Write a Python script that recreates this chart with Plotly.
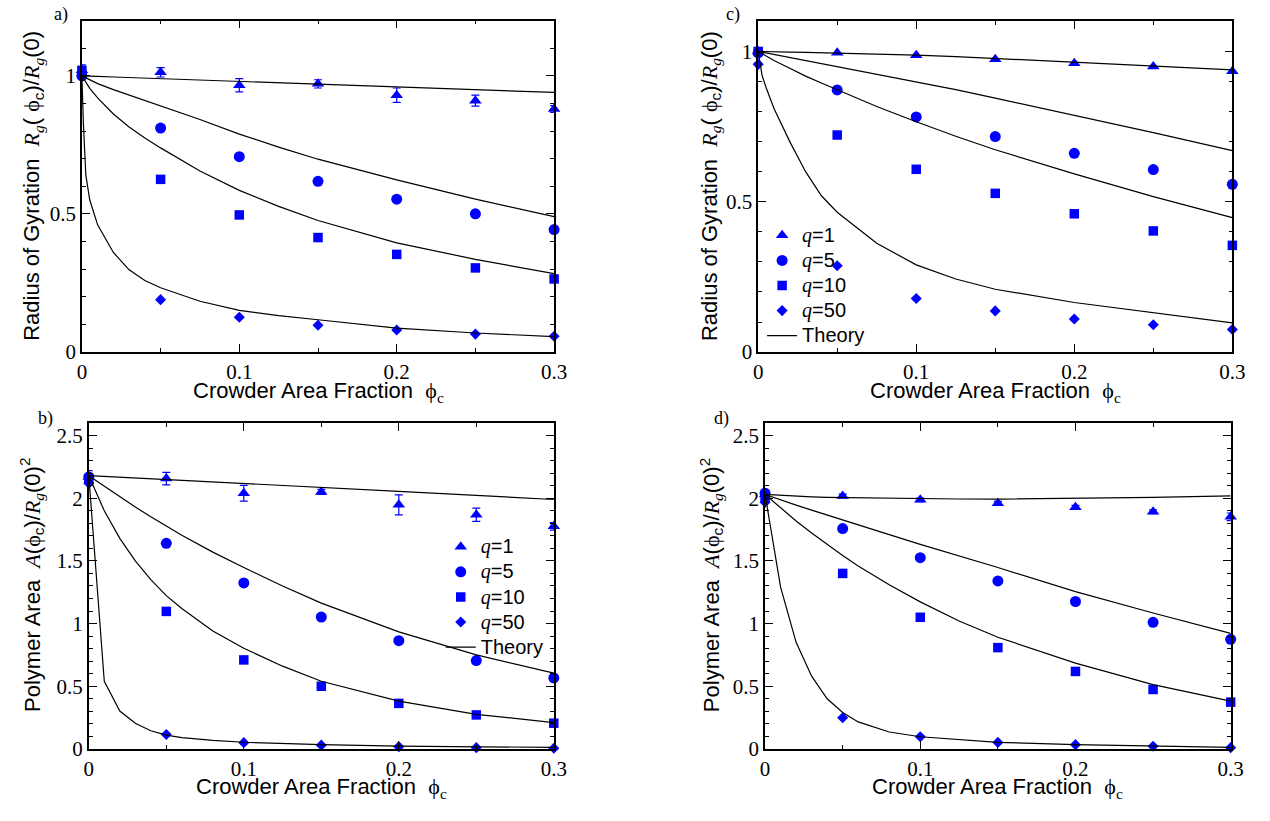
import plotly.graph_objects as go

# ---------------- data ----------------
phi = [0, 0.05, 0.1, 0.15, 0.2, 0.25, 0.3]

# panel a : Rg(phi)/Rg(0)
a_q1 = [1.02, 1.013, 0.966, 0.971, 0.93, 0.91, 0.88]
a_q1_err = [0.02, 0.017, 0.024, 0.015, 0.026, 0.02, 0.012]
a_q5 = [1.0, 0.811, 0.707, 0.618, 0.553, 0.5, 0.443]
a_q10 = [1.02, 0.625, 0.496, 0.414, 0.353, 0.304, 0.264]
a_q50 = [1.0, 0.189, 0.125, 0.096, 0.079, 0.064, 0.056]

# panel b : A(phi)/Rg(0)^2
b_q1 = [2.17, 2.157, 2.04, 2.05, 1.947, 1.868, 1.776]
b_q1_err = [0.05, 0.05, 0.063, 0.02, 0.08, 0.053, 0.03]
b_q5 = [2.17, 1.64, 1.324, 1.052, 0.863, 0.705, 0.566]
b_q10 = [2.15, 1.097, 0.71, 0.5, 0.363, 0.271, 0.205]
b_q50 = [2.12, 0.115, 0.05, 0.03, 0.018, 0.01, 0.005]

# panel c : Rg(phi)/Rg(0)
c_q1 = [1.0, 0.996, 0.987, 0.974, 0.961, 0.95, 0.934]
c_q5 = [0.995, 0.872, 0.782, 0.717, 0.661, 0.607, 0.558]
c_q10 = [1.0, 0.722, 0.608, 0.528, 0.46, 0.403, 0.355]
c_q50 = [0.957, 0.287, 0.178, 0.137, 0.11, 0.091, 0.075]

# panel d : A(phi)/Rg(0)^2
d_q1 = [2.03, 2.018, 1.987, 1.96, 1.928, 1.892, 1.852]
d_q1_err = [0.03, 0.015, 0.015, 0.015, 0.015, 0.015, 0.03]
d_q5 = [2.04, 1.758, 1.526, 1.34, 1.176, 1.01, 0.874]
d_q10 = [2.0, 1.4, 1.05, 0.808, 0.618, 0.474, 0.373]
d_q50 = [1.968, 0.249, 0.097, 0.052, 0.034, 0.021, 0.01]

# theory curves
th_x_ac = [0, 0.001, 0.0025, 0.005, 0.01, 0.02, 0.03, 0.04, 0.05, 0.075, 0.1, 0.125, 0.15, 0.2, 0.25, 0.3]
a_th_q1 = [1.0, 1.0, 1.0, 0.999, 0.998, 0.996, 0.994, 0.992, 0.99, 0.985, 0.98, 0.975, 0.97, 0.96, 0.95, 0.94]
a_th_q5 = [1.0, 0.997, 0.992, 0.985, 0.972, 0.95, 0.93, 0.91, 0.892, 0.842, 0.789, 0.742, 0.698, 0.623, 0.553, 0.49]
a_th_q10 = [1.0, 0.99, 0.975, 0.955, 0.92, 0.862, 0.815, 0.775, 0.739, 0.655, 0.585, 0.527, 0.476, 0.395, 0.335, 0.283]
a_th_q50 = [1.0, 0.82, 0.64, 0.55, 0.46, 0.36, 0.297, 0.258, 0.232, 0.183, 0.15, 0.131, 0.116, 0.086, 0.068, 0.055]

c_th_q1 = [1.0, 1.0, 1.0, 1.0, 0.999, 0.998, 0.997, 0.996, 0.995, 0.992, 0.988, 0.983, 0.977, 0.965, 0.953, 0.939]
c_th_q5 = [1.0, 0.999, 0.997, 0.994, 0.988, 0.978, 0.968, 0.959, 0.95, 0.925, 0.9, 0.873, 0.845, 0.788, 0.73, 0.67]
c_th_q10 = [1.0, 0.997, 0.993, 0.986, 0.97, 0.944, 0.918, 0.895, 0.872, 0.817, 0.766, 0.718, 0.673, 0.593, 0.517, 0.447]
c_th_q50 = [1.0, 0.965, 0.92, 0.88, 0.81, 0.7, 0.6, 0.52, 0.465, 0.362, 0.29, 0.243, 0.209, 0.165, 0.132, 0.097]

th_x_bd = [0, 0.01, 0.02, 0.03, 0.04, 0.05, 0.06, 0.08, 0.1, 0.125, 0.15, 0.2, 0.25, 0.3]
b_th_q1 = [2.18, 2.174, 2.168, 2.162, 2.155, 2.149, 2.143, 2.13, 2.118, 2.103, 2.087, 2.055, 2.022, 1.99]
b_th_q5 = [2.18, 2.095, 2.01, 1.93, 1.852, 1.776, 1.705, 1.57, 1.447, 1.3, 1.163, 0.934, 0.75, 0.605]
b_th_q10 = [2.18, 1.9, 1.68, 1.5, 1.35, 1.223, 1.12, 0.94, 0.803, 0.66, 0.54, 0.381, 0.276, 0.21]
b_th_q50 = [2.18, 0.54, 0.302, 0.205, 0.145, 0.11, 0.09, 0.068, 0.053, 0.042, 0.034, 0.022, 0.015, 0.012]

d_th_q1 = [2.03, 2.022, 2.016, 2.011, 2.007, 2.005, 2.002, 1.998, 1.995, 1.994, 1.993, 1.998, 2.007, 2.018]
d_th_q5 = [2.03, 1.985, 1.945, 1.905, 1.867, 1.829, 1.79, 1.71, 1.632, 1.54, 1.447, 1.255, 1.084, 0.921]
d_th_q10 = [2.03, 1.922, 1.819, 1.722, 1.63, 1.543, 1.46, 1.31, 1.173, 1.02, 0.891, 0.684, 0.513, 0.381]
d_th_q50 = [2.03, 1.29, 0.85, 0.58, 0.4, 0.29, 0.215, 0.135, 0.097, 0.072, 0.052, 0.034, 0.021, 0.012]

x_ticks = [0, 0.1, 0.2, 0.3]
q_labels = ["1", "5", "10", "50"]

# ---------------- style ----------------
W, H = 1270, 821
BLUE = "#0000ff"
SERIF = "Liberation Serif, Times New Roman, serif"
SANS = "Liberation Sans, Arial, Helvetica, sans-serif"
SERIF_CSS = "font-family:'Liberation Serif','Times New Roman',serif"
symbols = ["triangle-up", "circle", "square", "diamond"]
msizes = [11, 11, 9.5, 8.5]


def fx(p):
    return p / W


def fy(p):
    return 1 - p / H


def qname(q):
    return ('<span style="%s;font-size:20px"><i>q</i></span>'
            '<span style="font-size:20px">=%s</span>' % (SERIF_CSS, q))


panels = [
    # key, axis suffix, x px domain, y px domain, y max, data, errors, theory x, theory, legend
    ("a", "", (78, 557), (21, 357), 1.2, [a_q1, a_q5, a_q10, a_q50], a_q1_err,
     th_x_ac, [a_th_q1, a_th_q5, a_th_q10, a_th_q50], None),
    ("b", "2", (85, 556.7), (429.3, 760), 2.6, [b_q1, b_q5, b_q10, b_q50], b_q1_err,
     th_x_bd, [b_th_q1, b_th_q5, b_th_q10, b_th_q50], "legend"),
    ("c", "3", (764, 1245), (21.7, 357.3), 1.1, [c_q1, c_q5, c_q10, c_q50], None,
     th_x_ac, [c_th_q1, c_th_q5, c_th_q10, c_th_q50], "legend2"),
    ("d", "4", (771, 1243.3), (429.3, 760), 2.6, [d_q1, d_q5, d_q10, d_q50], d_q1_err,
     th_x_bd, [d_th_q1, d_th_q5, d_th_q10, d_th_q50], None),
]

fig = go.Figure()
layout = dict(
    width=W, height=H, margin=dict(l=0, r=0, t=0, b=0),
    paper_bgcolor="white", plot_bgcolor="white",
    font=dict(family=SANS, color="black"),
)

for key, sfx, xd, yd, ymax, series, err, thx, ths, leg in panels:
    xref = "x" + sfx
    yref = "y" + sfx
    show = leg is not None
    legkw = dict(legend=leg) if leg else {}
    for i, (ys, sym, ms) in enumerate(zip(series, symbols, msizes)):
        kw = {}
        if i == 0 and err is not None:
            kw["error_y"] = dict(type="data", array=err, visible=True, color=BLUE,
                                 thickness=1.2, width=4)
        fig.add_trace(go.Scatter(
            x=phi, y=ys, mode="markers", xaxis=xref, yaxis=yref,
            marker=dict(symbol=sym, size=ms, color=BLUE, line=dict(width=0)),
            name=qname(q_labels[i]), showlegend=show, cliponaxis=False, **kw, **legkw))
    for j, ty in enumerate(ths):
        fig.add_trace(go.Scatter(
            x=thx, y=ty, mode="lines", xaxis=xref, yaxis=yref,
            line=dict(color="black", width=1.2),
            name='<span style="font-size:20px">Theory</span>',
            showlegend=(show and j == 0), cliponaxis=True, **legkw))

    common = dict(ticks="inside", ticklen=8, tickwidth=1.2, tickcolor="black",
                  showline=True, linecolor="black", linewidth=1.5, mirror="allticks",
                  showgrid=False, zeroline=False,
                  tickfont=dict(family=SERIF, size=21, color="black"))
    layout["xaxis" + sfx] = dict(
        domain=[fx(xd[0]), fx(xd[1])], range=[0, 0.3], anchor=yref,
        tickmode="array", tickvals=x_ticks, ticktext=["0", "0.1", "0.2", "0.3"],
        minor=dict(tickvals=[0.05, 0.15, 0.25], ticks="inside", ticklen=4,
                   tickwidth=1, tickcolor="black"),
        **common)
    layout["yaxis" + sfx] = dict(
        domain=[fy(yd[1]), fy(yd[0])], range=[0, ymax], anchor=xref,
        tickmode="linear", tick0=0, dtick=0.5,
        minor=dict(dtick=0.1, ticks="inside", ticklen=4, tickwidth=1, tickcolor="black"),
        **common)

legend_common = dict(bgcolor="rgba(0,0,0,0)", borderwidth=0, xanchor="left", yanchor="top",
                     font=dict(family=SANS, size=17, color="black"), tracegroupgap=0,
                     itemwidth=30)
layout["legend"] = dict(x=fx(442), y=fy(537), **legend_common)
layout["legend2"] = dict(x=fx(768), y=fy(221), **legend_common)

PHI = "\u03d5"
R = '<span style="%s"><i>R</i></span>' % SERIF_CSS
g = '<sub><span style="%s"><i>g</i></span></sub>' % SERIF_CSS
ph = '<span style="%s">%s</span>' % (SERIF_CSS, PHI)
A = '<span style="%s"><i>A</i></span>' % SERIF_CSS
rg_title = "Radius of Gyration\u00a0\u00a0" + R + g + "(\u00a0" + ph + "<sub>c</sub>)/" + R + g + "(0)"
area_title = "Polymer Area\u00a0\u00a0" + A + "(" + ph + "<sub>c</sub>)/" + R + g + "(0)<sup>2</sup>"
x_title = "Crowder Area Fraction\u00a0\u00a0" + ph + '<sub><span style="%s">c</span></sub>' % SERIF_CSS

annotations = []
title_font = dict(family=SANS, size=22, color="black")
for (cx, cy, txt) in [(29, 189, rg_title), (27, 594, area_title),
                      (716, 189, rg_title), (716, 594, area_title)]:
    annotations.append(dict(text=txt, x=fx(cx), y=fy(cy), xref="paper", yref="paper",
                            xanchor="center", yanchor="middle", textangle=-90,
                            showarrow=False, font=title_font))
for (cx, cy) in [(318, 398), (321, 800), (1005, 398), (1007, 800)]:
    annotations.append(dict(text=x_title, x=fx(cx), y=fy(cy), xref="paper", yref="paper",
                            xanchor="center", yanchor="middle", showarrow=False,
                            font=title_font))
for (cx, cy, lab) in [(57, 15, "a)"), (41, 425, "b)"), (738, 15, "c)"), (727, 425, "d)")]:
    annotations.append(dict(text=lab, x=fx(cx), y=fy(cy), xref="paper", yref="paper",
                            xanchor="center", yanchor="middle", showarrow=False,
                            font=dict(family=SERIF, size=18, color="black")))
layout["annotations"] = annotations

fig.update_layout(**layout)
fig.write_html("out.html",
               post_script="document.body.style.margin='0px';"
                           "document.body.style.padding='0px';"
                           "document.documentElement.style.overflow='hidden';")
